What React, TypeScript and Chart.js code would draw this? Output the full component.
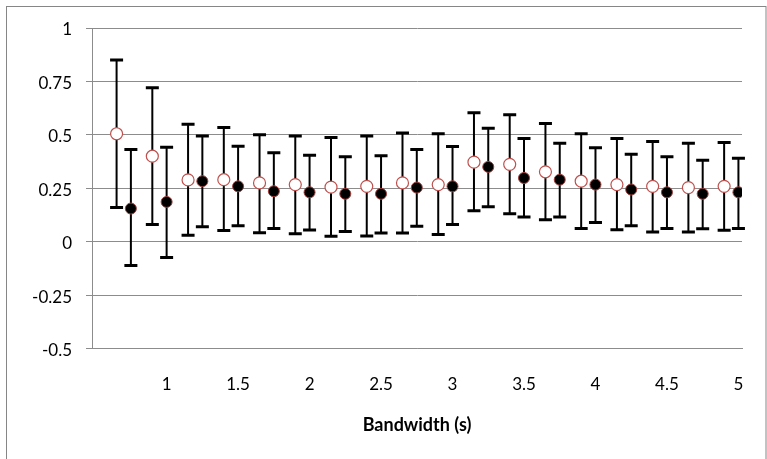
import React, { useEffect, useRef } from 'react';
import { Chart, registerables } from 'chart.js';

Chart.register(...registerables);

// Tick labels
const xTicks = [1, 1.5, 2, 2.5, 3, 3.5, 4, 4.5, 5];
const yTicks = [-0.5, -0.25, 0, 0.25, 0.5, 0.75, 1];

// Series 1: open red circles
const redX = [0.65, 0.9, 1.15, 1.4, 1.65, 1.9, 2.15, 2.4, 2.65, 2.9, 3.15, 3.4, 3.65, 3.9, 4.15, 4.4, 4.65, 4.9];
const redY = [0.505, 0.4, 0.289, 0.29, 0.275, 0.267, 0.255, 0.259, 0.275, 0.267, 0.372, 0.362, 0.327, 0.283, 0.267, 0.259, 0.253, 0.259];
const redHi = [0.85, 0.72, 0.55, 0.534, 0.5, 0.494, 0.488, 0.494, 0.508, 0.505, 0.603, 0.594, 0.553, 0.505, 0.483, 0.469, 0.461, 0.464];
const redLo = [0.16, 0.08, 0.03, 0.052, 0.042, 0.0375, 0.025, 0.027, 0.041, 0.033, 0.145, 0.131, 0.103, 0.062, 0.056, 0.045, 0.045, 0.053];

// Series 2: filled black circles
const blackX = [0.75, 1, 1.25, 1.5, 1.75, 2, 2.25, 2.5, 2.75, 3, 3.25, 3.5, 3.75, 4, 4.25, 4.5, 4.75, 5];
const blackY = [0.155, 0.186, 0.283, 0.259, 0.236, 0.231, 0.224, 0.224, 0.253, 0.259, 0.35, 0.298, 0.29, 0.267, 0.244, 0.231, 0.224, 0.231];
const blackHi = [0.431, 0.442, 0.494, 0.447, 0.416, 0.405, 0.397, 0.402, 0.431, 0.445, 0.531, 0.483, 0.461, 0.439, 0.409, 0.397, 0.381, 0.39];
const blackLo = [-0.112, -0.074, 0.07, 0.075, 0.062, 0.055, 0.048, 0.041, 0.072, 0.08, 0.163, 0.116, 0.116, 0.09, 0.075, 0.062, 0.061, 0.062];

const xTitle = 'Bandwidth (s)';
const FONT = 'Lato, "Open Sans", sans-serif';

export default function App() {
  const ref = useRef<HTMLCanvasElement>(null);

  useEffect(() => {
    document.body.style.margin = '0';
    const canvas = ref.current;
    if (!canvas) return;

    const frame = {
      id: 'frame',
      beforeDraw(chart: any) {
        const ctx = chart.ctx;
        ctx.save();
        ctx.fillStyle = '#ffffff';
        ctx.fillRect(0, 0, chart.width, chart.height);
        ctx.strokeStyle = '#868686';
        ctx.lineWidth = 1;
        ctx.strokeRect(6.5, 6.5, 759.5, 470);
        ctx.restore();
      },
    };

    const errorBars = {
      id: 'errorBars',
      beforeDatasetsDraw(chart: any) {
        const ctx = chart.ctx;
        const xs = chart.scales.x;
        const ys = chart.scales.y;
        const draw = (px: number[], lo: number[], hi: number[]) => {
          for (let i = 0; i < px.length; i++) {
            const x = xs.getPixelForValue(px[i]);
            const t = ys.getPixelForValue(hi[i]);
            const b = ys.getPixelForValue(lo[i]);
            ctx.strokeStyle = '#000';
            ctx.lineWidth = 2;
            ctx.beginPath();
            ctx.moveTo(x, t);
            ctx.lineTo(x, b);
            ctx.stroke();
            ctx.lineWidth = 3;
            ctx.beginPath();
            ctx.moveTo(x - 6.5, t);
            ctx.lineTo(x + 6.5, t);
            ctx.moveTo(x - 6.5, b);
            ctx.lineTo(x + 6.5, b);
            ctx.stroke();
          }
        };
        ctx.save();
        draw(redX, redLo, redHi);
        draw(blackX, blackLo, blackHi);
        ctx.restore();
      },
    };

    const chart = new Chart(canvas, {
      type: 'scatter',
      data: {
        datasets: [
          {
            label: 'A',
            data: redX.map((x, i) => ({ x, y: redY[i] })),
            pointRadius: 6,
            pointBorderWidth: 1.2,
            borderColor: '#c0504d',
            backgroundColor: '#ffffff',
            pointBackgroundColor: '#ffffff',
            pointBorderColor: '#c0504d',
          },
          {
            label: 'B',
            data: blackX.map((x, i) => ({ x, y: blackY[i] })),
            pointRadius: 5.5,
            pointBorderWidth: 1,
            borderColor: '#c0504d',
            backgroundColor: '#000000',
            pointBackgroundColor: '#000000',
            pointBorderColor: '#a0403d',
          },
        ],
      },
      options: {
        responsive: false,
        animation: false,
        devicePixelRatio: 1,
        layout: { padding: { top: 28, right: 25, left: 0, bottom: 0 } },
        plugins: {
          legend: { display: false },
          tooltip: { enabled: false },
        },
        scales: {
          x: {
            type: 'linear',
            min: 0.478,
            max: 5.025,
            afterFit(scale: any) {
              scale.height = 110.5;
            },
            afterBuildTicks(scale: any) {
              scale.ticks = xTicks.map((v) => ({ value: v }));
            },
            grid: { display: false },
            border: { display: true, color: '#8c8c8c', width: 1 },
            ticks: {
              padding: 18,
              color: '#000',
              font: { family: FONT, size: 17 },
              maxRotation: 0,
              autoSkip: false,
              callback: (v: any) => String(v),
            },
            title: {
              display: true,
              text: xTitle,
              color: '#000',
              font: { family: FONT, size: 18, weight: 'bold' },
              padding: { top: 0, bottom: 23 },
            },
          },
          y: {
            type: 'linear',
            min: -0.5,
            max: 1,
            afterFit(scale: any) {
              scale.width = 92;
            },
            afterBuildTicks(scale: any) {
              scale.ticks = yTicks.map((v) => ({ value: v }));
            },
            grid: { color: '#8c8c8c', lineWidth: 1, tickLength: 6, drawTicks: true },
            border: { display: true, color: '#8c8c8c', width: 1 },
            ticks: {
              padding: 14,
              labelOffset: 2,
              color: '#000',
              font: { family: FONT, size: 17 },
              callback: (v: any) => String(v),
            },
          },
        },
      },
      plugins: [frame, errorBars],
    });

    return () => chart.destroy();
  }, []);

  return (
    <div style={{ width: 767, height: 459 }}>
      <canvas ref={ref} width={767} height={459} style={{ display: 'block' }} />
    </div>
  );
}
